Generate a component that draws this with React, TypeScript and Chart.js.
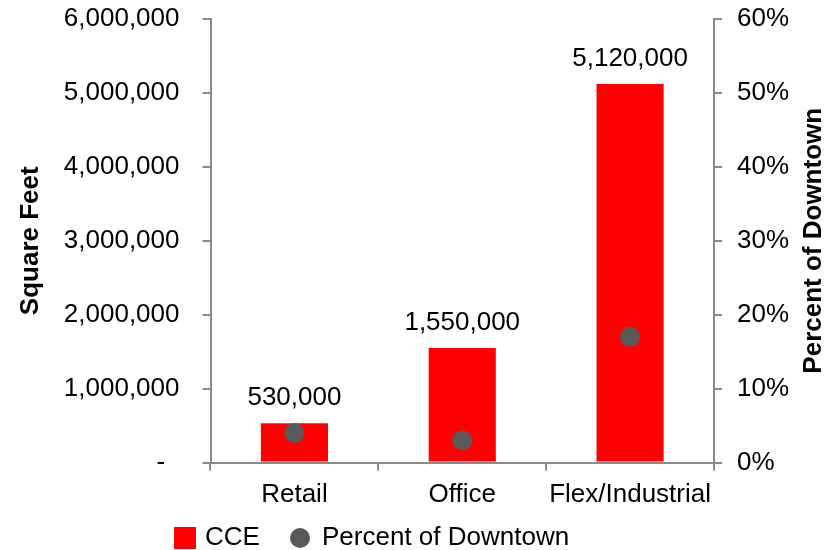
import React, { useEffect, useRef } from 'react';
import { Chart, registerables } from 'chart.js';

Chart.register(...registerables);

// Floor area by property type, with its share of downtown
const categories = ['Retail', 'Office', 'Flex/Industrial'];
const squareFeet = [530000, 1550000, 5120000];
const percentOfDowntown = [4, 3, 17];

const seriesNames = ['CCE', 'Percent of Downtown'];
const leftTickLabels = ['-  ', '1,000,000', '2,000,000', '3,000,000', '4,000,000', '5,000,000', '6,000,000'];
const rightTickLabels = ['0%', '10%', '20%', '30%', '40%', '50%', '60%'];
const leftTitle = 'Square Feet';
const rightTitle = 'Percent of Downtown';

const FONT = '"Liberation Sans", Arial, Helvetica, sans-serif';
const BAR_COLOR = '#FF0000';
const DOT_COLOR = '#595959';
const AXIS_COLOR = '#8A8A8A';
const TEXT_SIZE = 26;

// Value text above each bar
const barValueLabels = {
  id: 'barValueLabels',
  afterDatasetsDraw(chart: any) {
    const ctx = chart.ctx;
    const meta = chart.getDatasetMeta(0);
    const values = chart.data.datasets[0].data as number[];
    ctx.save();
    ctx.font = `${TEXT_SIZE}px ${FONT}`;
    ctx.fillStyle = '#000000';
    ctx.textAlign = 'center';
    ctx.textBaseline = 'alphabetic';
    meta.data.forEach((el: any, i: number) => {
      ctx.fillText(values[i].toLocaleString('en-US'), el.x, el.y - 18);
    });
    ctx.restore();
  },
};

// Right-hand axis title, reading bottom to top
const rightAxisTitle = {
  id: 'rightAxisTitle',
  afterDraw(chart: any) {
    const ctx = chart.ctx;
    const s = chart.scales.y1;
    const area = chart.chartArea;
    ctx.save();
    ctx.translate(s.right - 23, (area.top + area.bottom) / 2);
    ctx.rotate(-Math.PI / 2);
    ctx.font = `bold ${TEXT_SIZE}px ${FONT}`;
    ctx.fillStyle = '#000000';
    ctx.textAlign = 'center';
    ctx.textBaseline = 'middle';
    ctx.fillText(rightTitle, 0, 0);
    ctx.restore();
  },
};

// Legend row under the category labels
const bottomLegend = {
  id: 'bottomLegend',
  afterDraw(chart: any) {
    const ctx = chart.ctx;
    const ds = chart.data.datasets;
    const cy = 538;
    ctx.save();
    ctx.font = `${TEXT_SIZE}px ${FONT}`;
    ctx.textAlign = 'left';
    ctx.textBaseline = 'middle';

    ctx.fillStyle = ds[0].backgroundColor;
    ctx.fillRect(174, cy - 11, 22, 22);
    ctx.fillStyle = '#000000';
    ctx.fillText(ds[0].label, 205, cy);

    ctx.fillStyle = ds[1].pointBackgroundColor;
    ctx.beginPath();
    ctx.arc(300, cy, 10, 0, Math.PI * 2);
    ctx.fill();
    ctx.fillStyle = '#000000';
    ctx.fillText(ds[1].label, 322, cy);
    ctx.restore();
  },
};

const fixVerticalAxis = (width: number) => (scale: any) => {
  scale.width = width;
  scale.paddingTop = 0;
  scale.paddingBottom = 0;
};

export default function App() {
  const canvasRef = useRef<HTMLCanvasElement | null>(null);

  useEffect(() => {
    document.body.style.margin = '0';
    const canvas = canvasRef.current;
    if (!canvas) return;

    const chart = new Chart(canvas, {
      type: 'bar',
      data: {
        labels: categories,
        datasets: [
          {
            type: 'bar',
            label: seriesNames[0],
            data: squareFeet,
            backgroundColor: BAR_COLOR,
            borderWidth: 0,
            yAxisID: 'y',
            barPercentage: 0.4,
            categoryPercentage: 1,
            order: 2,
          },
          {
            type: 'line',
            label: seriesNames[1],
            data: percentOfDowntown,
            showLine: false,
            pointRadius: 10,
            pointHoverRadius: 10,
            pointBackgroundColor: DOT_COLOR,
            pointBorderWidth: 0,
            borderColor: DOT_COLOR,
            yAxisID: 'y1',
            order: 1,
          } as any,
        ],
      },
      options: {
        responsive: false,
        animation: false,
        devicePixelRatio: 1,
        layout: { padding: { top: 19, left: 0, right: 0, bottom: 0 } },
        plugins: {
          legend: { display: false },
          tooltip: { enabled: false },
        },
        scales: {
          x: {
            offset: true,
            grid: {
              display: true,
              drawOnChartArea: false,
              drawTicks: true,
              tickLength: 8,
              color: AXIS_COLOR,
              lineWidth: 2,
              offset: true,
            },
            border: { display: true, color: AXIS_COLOR, width: 2 },
            ticks: {
              color: '#000000',
              font: { family: FONT, size: TEXT_SIZE },
              padding: 9,
              maxRotation: 0,
              autoSkip: false,
            },
            afterFit(scale: any) {
              scale.height = 87.5;
              scale.paddingLeft = 0;
              scale.paddingRight = 0;
            },
          },
          y: {
            position: 'left',
            min: 0,
            max: 6000000,
            grid: {
              display: true,
              drawOnChartArea: false,
              drawTicks: true,
              tickLength: 8,
              color: AXIS_COLOR,
              lineWidth: 2,
            },
            border: { display: true, color: AXIS_COLOR, width: 2 },
            ticks: {
              stepSize: 1000000,
              color: '#000000',
              font: { family: FONT, size: TEXT_SIZE },
              padding: 23,
              callback: (_v: any, i: number) => leftTickLabels[i],
            },
            title: {
              display: true,
              text: leftTitle,
              color: '#000000',
              font: { family: FONT, size: TEXT_SIZE, weight: 'bold' },
              padding: { top: 15, bottom: 0 },
            },
            afterFit: fixVerticalAxis(210.5),
          },
          y1: {
            position: 'right',
            min: 0,
            max: 60,
            grid: {
              display: true,
              drawOnChartArea: false,
              drawTicks: true,
              tickLength: 8,
              color: AXIS_COLOR,
              lineWidth: 2,
            },
            border: { display: true, color: AXIS_COLOR, width: 2 },
            ticks: {
              stepSize: 10,
              color: '#000000',
              font: { family: FONT, size: TEXT_SIZE },
              padding: 15,
              callback: (_v: any, i: number) => rightTickLabels[i],
            },
            afterFit: fixVerticalAxis(123),
          },
        },
      } as any,
      plugins: [barValueLabels, rightAxisTitle, bottomLegend],
    });

    return () => chart.destroy();
  }, []);

  return (
    <div style={{ width: 837, height: 550, background: '#ffffff' }}>
      <canvas ref={canvasRef} width={837} height={550} style={{ display: 'block' }} />
    </div>
  );
}
